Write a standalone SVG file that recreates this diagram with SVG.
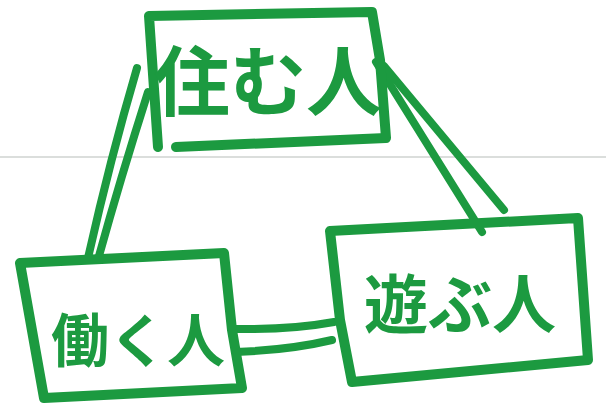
<svg xmlns="http://www.w3.org/2000/svg" width="606" height="414" viewBox="0 0 606 414">
<style>
.s{fill:none;stroke:#1c9a40;stroke-width:10;stroke-linecap:round;stroke-linejoin:round}
.c{fill:none;stroke:#1c9a40;stroke-width:8;stroke-linecap:round}
.t{font-family:"Noto Sans CJK JP",sans-serif;fill:#1c9a40;font-weight:700;text-anchor:middle}
</style>
<rect width="606" height="414" fill="#fff"/>
<line x1="0" y1="157" x2="606" y2="157" stroke="#cfd3d0" stroke-width="1.5"/>
<g id="connectors">
<path class="c" d="M137,68 Q110,160 88,258"/>
<path class="c" d="M148,92 Q120,180 99,256"/>
<path class="c" d="M376,62 L482,232"/>
<path class="c" d="M384,66 L504,210"/>
<path class="c" d="M234,329 Q290,330 334,322"/>
<path class="c" d="M236,352 Q290,350 332,340"/>
</g>
<g id="sumu">
<path class="s" d="M149,16 L372,12 L380,60 L386,138 M176,147 L386,138 M149,16 L158,147"/>
<text class="t" x="268" y="110" font-size="76">住む人</text>
</g>
<g id="hataraku">
<path class="s" d="M20,263 L224,253 L232,330 L242,388 L44,398 L20,263"/>
<text class="t" x="138" y="362" font-size="58">働く人</text>
</g>
<g id="asobu">
<path class="s" d="M330,231 L578,218 L588,360 L352,382 L340,320 L330,231"/>
<text class="t" x="460" y="328" font-size="64">遊ぶ人</text>
</g>
</svg>
